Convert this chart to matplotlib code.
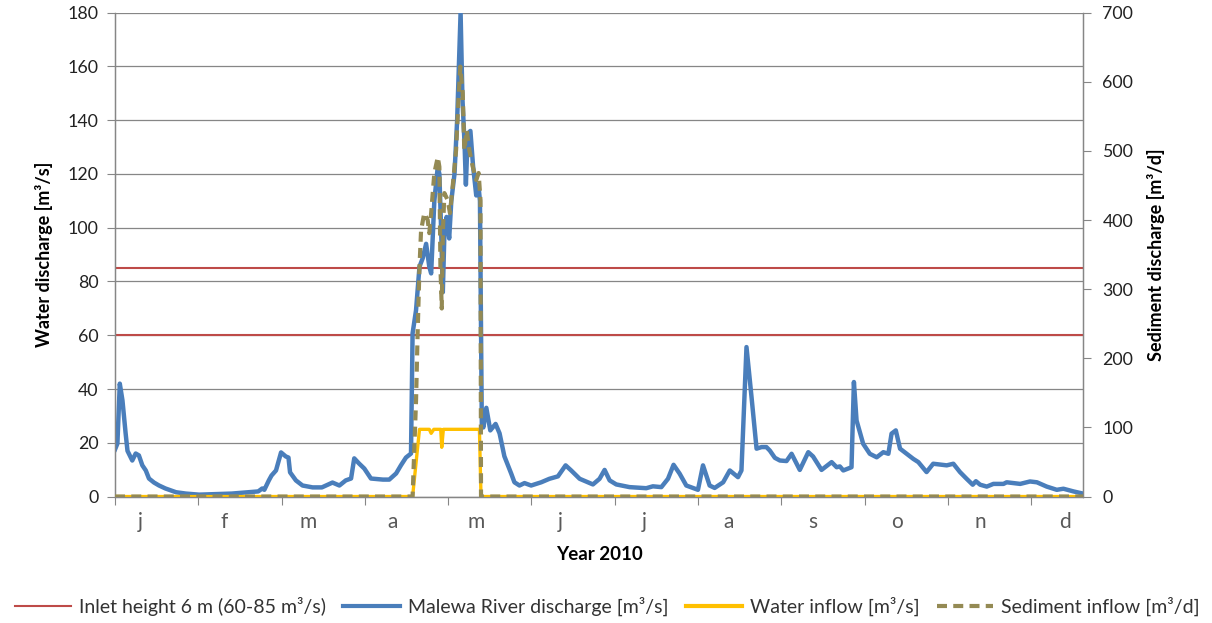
import matplotlib
matplotlib.use('Agg')
import matplotlib.pyplot as plt
from matplotlib.lines import Line2D
import numpy as np

plt.rcParams['font.family'] = ['Lato', 'DejaVu Sans']

# daily discharge of the Malewa river, 2010 (day of year, m3/s)
discharge_day = [0, 0.9, 1.8, 2.8, 4, 4.7, 6.5, 7.8, 9, 10.3, 11.6, 12.8, 14.7, 16.6, 19, 23, 26.7,
                 31.7, 44, 54, 55.5, 56.3, 58, 59, 60.7, 62.6, 64.4, 65.4, 66, 68.2, 70.7, 74.5, 78,
                 82, 84.6, 87, 89, 90.2, 92, 94, 96.5, 101, 103.4, 106, 107.8, 109.7, 111.6, 112.2,
                 113.5, 114.8, 116, 117.3, 118.5, 119.2, 120.4, 121.7, 122.3, 123, 123.6, 124.2, 125,
                 126, 126.8, 128, 129, 130.3, 131, 131.8, 132.3, 133, 134, 135, 136.2, 137, 137.6,
                 138.3, 138.9, 140, 141.5, 143.5, 145, 146.8, 148.4, 149.4, 150.6, 152.5, 154.4,
                 156.9, 160.7, 163.8, 167, 169.9, 172, 175.2, 180.2, 182.7, 184.6, 186.5, 189, 194,
                 200.3, 202.8, 206, 208.5, 210.6, 212.9, 215.4, 219.8, 221.7, 224.2, 226.1, 229.3,
                 231.8, 234.9, 236.2, 238.1, 240, 241.9, 243.8, 245.6, 246.9, 248.8, 250.7, 253.2,
                 255.1, 258.2, 261.4, 263.2, 266.4, 270.2, 272.1, 273.3, 274.6, 277.7, 278.6, 279.6,
                 282.1, 284.6, 287.2, 289.7, 291.6, 292.8, 294.4, 296, 298.5, 301, 302.9, 306, 308.5,
                 313.6, 316.1, 318.6, 321.1, 323.4, 324.6, 326.2, 328.7, 331.2, 335, 336.2, 341.3,
                 345, 347.6, 351.3, 355.1, 357.6, 361.4, 364.5]
discharge = [17.5, 19.7, 42, 35.8, 23.5, 17, 13.4, 16, 15.3, 11.6, 9.7, 6.7, 5.2, 4.1, 3, 1.6, 1.1,
             0.7, 1.1, 1.9, 3, 2.5, 6, 7.8, 9.7, 16.4, 14.9, 14.5, 9, 6, 4.1, 3.4, 3.4,
             5.2, 4.1, 6, 6.7, 14.2, 12.3, 10.4, 6.7, 6.3, 6.3, 8.6, 11.6, 14.5, 16, 60.7,
             69.3, 85.5, 88.6, 94, 85.5, 83, 110, 122.7, 120, 98, 76, 98, 104,
             96, 110, 120, 140, 180, 148, 131, 116, 135, 136, 123, 112, 116, 110,
             27, 25.7, 33, 24.6, 27, 23.5, 15, 11, 8.5, 5.3, 4.1, 5,
             4.1, 5.3, 6.6, 7.5, 11.6, 9.7, 6.6, 4.5, 6.6, 9.9, 6, 4.5, 3.5,
             3.1, 3.8, 3.5, 6.6, 11.8, 8.5, 4.1, 2.5, 11.6, 4.1, 3.2, 5.3,
             9.7, 7.2, 9.7, 55.6, 37, 17.8, 18.4, 18.4, 17.1, 14.4, 13.4, 13.2,
             15.9, 9.9, 16.5, 14.9, 9.9, 12.8, 10.9, 11.2, 9.7, 10.9, 42.6, 28.3,
             19.6, 15.9, 14.6, 16.5, 15.9, 23.4, 24.6, 17.8, 15.9, 14, 12.8, 9.1, 12.2,
             11.6, 12.2, 9.1, 6.6, 4.4, 5.7, 4.4, 3.7, 4.7, 4.7, 5.3, 4.7,
             5.6, 5.3, 3.7, 2.5, 2.9, 1.9, 1.2]

# water taken in by the inlet (m3/s)
inflow_day = [0, 112.2, 114.8, 118.5, 119.2, 120.2, 122.8, 123.2, 123.8, 137.4, 138, 365]
inflow = [0, 0, 25, 25, 23.5, 25, 25, 18.3, 25, 25, 0, 0]

# sediment taken in (m3/d)
sediment_day = [0, 112.2, 113.5, 114.1, 114.8, 115.4, 116.6, 117.9, 118.5, 119.2, 120.4, 121.7,
                122.3, 122.7, 123.2, 123.6, 124.2, 125.4, 126.3, 127.3, 128.6, 129.5, 130.2,
                131.1, 131.7, 132.6, 133.6, 134.9, 136.2, 137.1, 137.8, 138, 365]
sediment = [0, 0, 139, 236, 332, 385, 410, 400, 381, 410, 468, 491,
            477, 332, 272, 381, 439, 429, 410, 448, 501, 574, 622,
            584, 501, 530, 501, 477, 458, 468, 429, 0, 0]

inlet_levels = [60, 85]
months = ['j', 'f', 'm', 'a', 'm', 'j', 'j', 'a', 's', 'o', 'n', 'd']

grey = '#868686'
blue = '#4a7ebb'
red = '#be4b48'
yellow = '#ffc000'
olive = '#948a54'

fig = plt.figure(figsize=(12.12, 6.23), dpi=100)
ax = fig.add_axes([0.0949, 0.203, 0.7987, 0.7767])
ax2 = ax.twinx()

for lev in inlet_levels:
    ax.axhline(lev, color=red, lw=1.5, zorder=2)
ax.plot(discharge_day, discharge, color=blue, lw=3.2, zorder=3, solid_joinstyle='round')
ax.plot(inflow_day, inflow, color=yellow, lw=2.4, zorder=4)
ax2.plot(sediment_day, sediment, color=olive, lw=3, dashes=(2.4, 1.5), zorder=5)

ax.set_xlim(0, 365)
ax.set_ylim(0, 180)
ax2.set_ylim(0, 700)
ax.set_yticks(np.arange(0, 181, 20))
ax2.set_yticks(np.arange(0, 701, 100))
ax.yaxis.grid(True, color=grey, lw=0.9)
ax.set_axisbelow(True)

# month ticks / labels
ax.set_xticks(np.arange(12) * 31.4)
ax.set_xticklabels([])
ax.set_xticks(np.arange(12) * 31.7 + 9.4, minor=True)
ax.set_xticklabels(months, minor=True)
ax.tick_params(axis='x', which='major', length=6, color=grey, direction='out')
ax.tick_params(axis='x', which='minor', length=0, pad=11, labelsize=15, labelcolor='#595959')

ax.tick_params(axis='y', length=6, color=grey, labelsize=12.8, labelcolor='#222222', pad=6)
ax2.tick_params(axis='y', length=6, color=grey, labelsize=12.8, labelcolor='#222222', pad=8)

for a in (ax, ax2):
    a.spines['top'].set_visible(False)
    for s in ('left', 'right', 'bottom'):
        a.spines[s].set_color(grey)
        a.spines[s].set_linewidth(0.9)

ax.set_ylabel('Water discharge [m³/s]', fontsize=13, fontweight='bold', labelpad=10)
ax2.set_ylabel('Sediment discharge [m³/d]', fontsize=13, fontweight='bold', labelpad=10)
ax.set_xlabel('Year 2010', fontsize=13.5, fontweight='bold', labelpad=10)

handles = [Line2D([], [], color=red, lw=1.5),
           Line2D([], [], color=blue, lw=3),
           Line2D([], [], color=yellow, lw=3),
           Line2D([], [], color=olive, lw=3, dashes=(2.4, 1.5))]
labels = ['Inlet height 6 m (60-85 m³/s)', 'Malewa River discharge [m³/s]',
          'Water inflow [m³/s]', 'Sediment inflow [m³/d]']
fig.legend(handles, labels, loc='center', bbox_to_anchor=(0.501, 0.026), ncol=4, frameon=False,
           fontsize=14, handlelength=2.9, handletextpad=0.4, columnspacing=0.9,
           labelcolor='#333333')

fig.savefig('out.png', dpi=100)
